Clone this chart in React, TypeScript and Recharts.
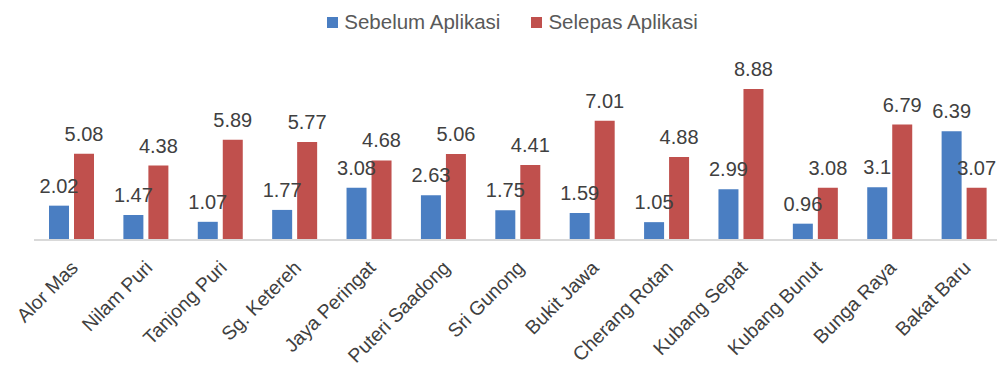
import React from "react";
import { BarChart, Bar, XAxis, YAxis, LabelList } from "recharts";

const categories = ["Alor Mas", "Nilam Puri", "Tanjong Puri", "Sg. Ketereh", "Jaya Peringat", "Puteri Saadong", "Sri Gunong", "Bukit Jawa", "Cherang Rotan", "Kubang Sepat", "Kubang Bunut", "Bunga Raya", "Bakat Baru"];
const sebelum = [2.02, 1.47, 1.07, 1.77, 3.08, 2.63, 1.75, 1.59, 1.05, 2.99, 0.96, 3.1, 6.39];
const selepas = [5.08, 4.38, 5.89, 5.77, 4.68, 5.06, 4.41, 7.01, 4.88, 8.88, 3.08, 6.79, 3.07];
const seriesNames = ["Sebelum Aplikasi", "Selepas Aplikasi"];
const colors = ["#4A7EC2", "#C0504D"];

const data = categories.map((c, i) => ({ name: c, a: sebelum[i], b: selepas[i] }));

const FONT = "'Liberation Sans', Arial, sans-serif";

const Tick = (props: any) => {
  const { x, y, payload } = props;
  return (
    <g transform={`translate(${x + 8},${y + 21})`}>
      <text transform="rotate(-45)" textAnchor="end" fill="#404040" fontSize={19.5} fontFamily={FONT}>
        {payload.value}
      </text>
    </g>
  );
};

export default function App() {
  return (
    <div style={{ position: "absolute", left: 0, top: 0, width: 997, height: 369, overflow: "hidden", background: "#fff" }}>
      <div style={{ position: "absolute", top: 10, left: 0, width: 997, display: "flex", justifyContent: "center", paddingLeft: 28, boxSizing: "border-box", fontFamily: FONT, fontSize: 20.5, color: "#595959", lineHeight: "24px" }}>
        {seriesNames.map((n, i) => (
          <div key={n} style={{ display: "flex", alignItems: "center", marginRight: i === 0 ? 31 : 0 }}>
            <span style={{ display: "inline-block", width: 11, height: 11, background: colors[i], marginRight: 6 }} />
            <span>{n}</span>
          </div>
        ))}
      </div>
      <BarChart width={1001} height={369} data={data} margin={{ top: 70, right: 0, left: 34, bottom: 0 }} barSize={20} barGap={5}>
        <XAxis dataKey="name" height={129} interval={0} tickLine={false} axisLine={{ stroke: "#D9D9D9", strokeWidth: 2 }} tick={<Tick />} />
        <YAxis hide domain={[0, 10]} />
        <Bar dataKey="a" fill={colors[0]} isAnimationActive={false}>
          <LabelList dataKey="a" position="top" offset={13} fill="#404040" fontSize={20} fontFamily={FONT} />
        </Bar>
        <Bar dataKey="b" fill={colors[1]} isAnimationActive={false}>
          <LabelList dataKey="b" position="top" offset={13} fill="#404040" fontSize={20} fontFamily={FONT} />
        </Bar>
      </BarChart>
    </div>
  );
}
